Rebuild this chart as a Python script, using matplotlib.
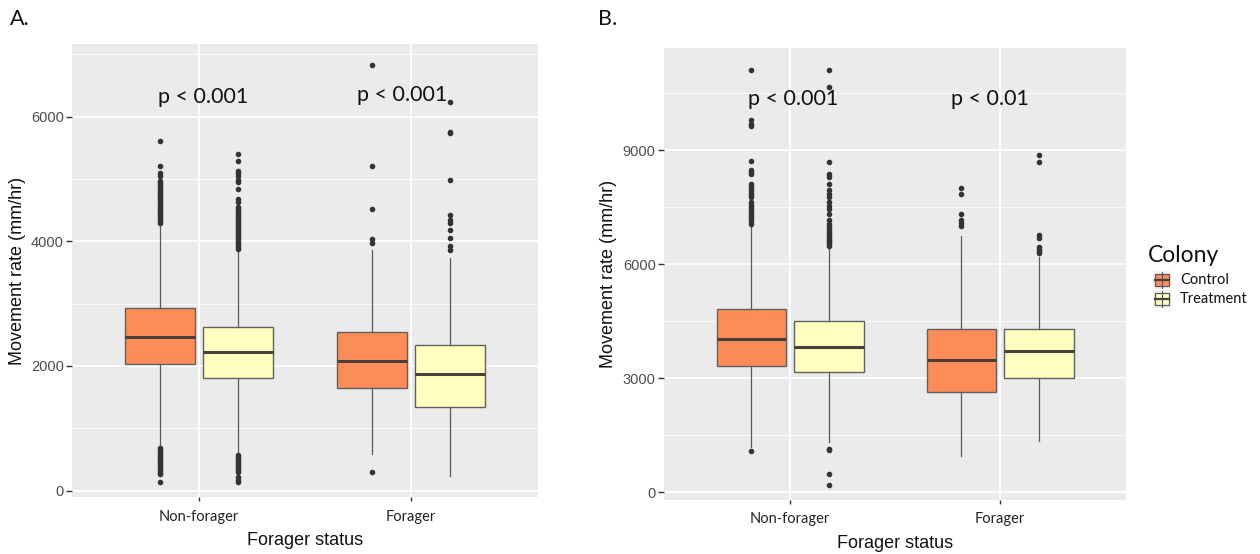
import matplotlib
matplotlib.use("Agg")
import matplotlib.pyplot as plt
from matplotlib.patches import Rectangle
from matplotlib.lines import Line2D
from matplotlib.ticker import MultipleLocator

# ---------------- data ----------------
categories = ["Non-forager", "Forager"]
groups = ["Control", "Treatment"]
colors = {"Control": "#FC8D59", "Treatment": "#FFFFBF"}

# Panel A: [Non-forager, Forager]
A_control_q1 = [2032, 1648]
A_control_med = [2460, 2085]
A_control_q3 = [2930, 2545]
A_control_lo = [700, 587]
A_control_hi = [4280, 3856]
A_control_fliers_nf = [5604, 5214, 5100, 5050, 4973, 4940, 4900, 4870, 4840, 4810, 4780, 4750,
                       4720, 4690, 4660, 4630, 4600, 4570, 4540, 4510, 4480, 4450, 4420, 4390,
                       4360, 4330, 4300,
                       680, 650, 620, 590, 560, 530, 500, 470, 440, 410, 380, 350, 320, 290, 267, 144]
A_control_fliers_f = [6827, 5211, 4523, 4043, 3973, 293]
A_treat_q1 = [1802, 1340]
A_treat_med = [2219, 1870]
A_treat_q3 = [2620, 2335]
A_treat_lo = [588, 229]
A_treat_hi = [3850, 3733]
A_treat_fliers_nf = [5401, 5294, 5134, 5090, 5040, 4990, 4947, 4840, 4679, 4626, 4545, 4510,
                     4480, 4450, 4420, 4390, 4360, 4330, 4300, 4270, 4240, 4210, 4180, 4150,
                     4120, 4090, 4060, 4030, 4000, 3970, 3940, 3910, 3880,
                     570, 540, 510, 480, 450, 420, 390, 360, 330, 300, 214, 170, 134]
A_treat_fliers_f = [6240, 5760, 5733, 4987, 4427, 4347, 4300, 4187, 4053, 3930, 3867]

# Panel B: [Non-forager, Forager]
B_control_q1 = [3333, 2635]
B_control_med = [4035, 3469]
B_control_q3 = [4816, 4294]
B_control_lo = [1200, 966]
B_control_hi = [6974, 6736]
B_control_fliers_nf = [11114, 9781, 9693, 9623, 8711, 8465, 8420, 8377, 8114, 8060, 8000, 7940,
                       7880, 7820, 7763, 7632, 7560, 7500, 7440, 7380, 7320, 7260, 7200, 7140,
                       7061, 1079]
B_control_fliers_f = [8009, 7842, 7307, 7157, 7080, 6999]
B_treat_q1 = [3175, 3003]
B_treat_med = [3833, 3706]
B_treat_q3 = [4491, 4294]
B_treat_lo = [1316, 1344]
B_treat_hi = [6447, 6191]
B_treat_fliers_nf = [11114, 10658, 8684, 8377, 8290, 8114, 7940, 7850, 7763, 7632, 7540, 7440,
                     7325, 7149, 7060, 6974, 6920, 6870, 6820, 6770, 6720, 6670, 6620, 6570,
                     6520, 6470, 1150, 1120, 482, 193]
B_treat_fliers_f = [8870, 8677, 6762, 6674, 6455, 6400, 6350, 6297]

p_labels_A = ["p < 0.001", "p < 0.001"]
p_labels_B = ["p < 0.001", "p < 0.01"]

# ---------------- style ----------------
BG = "#EBEBEB"
TICK_COL = "#4D4D4D"
CAT_FONT = ["Lato", "DejaVu Sans"]
AX_FONT = ["Liberation Sans", "DejaVu Sans"]

W, H = 1260, 554
fig = plt.figure(figsize=(W / 100, H / 100), dpi=100)


def px_axes(left, right, top, bottom):
    return fig.add_axes([left / W, 1 - bottom / H, (right - left) / W, (bottom - top) / H])


def make_stats(q1, med, q3, lo, hi, fliers):
    return dict(q1=q1, med=med, q3=q3, whislo=lo, whishi=hi, fliers=fliers)


def draw_panel(ax, ctrl, trt, ylim, major, minor, plabels, pxy):
    ax.set_facecolor(BG)
    offset, width = 0.185, 0.33
    for gi, (g, st) in enumerate([("Control", ctrl), ("Treatment", trt)]):
        pos = [i + (-offset if gi == 0 else offset) for i in range(len(categories))]
        ax.bxp(st, positions=pos, widths=width, patch_artist=True, showcaps=False,
               boxprops=dict(facecolor=colors[g], edgecolor="#606060", linewidth=1.0),
               medianprops=dict(color="#4a4038", linewidth=2.2),
               whiskerprops=dict(color="#5a5a5a", linewidth=0.9),
               flierprops=dict(marker="o", markersize=3.0, markerfacecolor="#333333",
                               markeredgecolor="#333333", linestyle="none"),
               zorder=3)
    ax.set_xlim(-0.6, 1.6)
    ax.set_ylim(*ylim)
    ax.yaxis.set_major_locator(MultipleLocator(major))
    ax.yaxis.set_minor_locator(MultipleLocator(minor))
    ax.set_xticks(range(len(categories)))
    ax.set_xticklabels(categories, fontfamily=CAT_FONT, fontsize=10.5, color="#222222")
    ax.grid(which="major", color="white", linewidth=1.3, zorder=0)
    ax.grid(which="minor", axis="y", color="white", linewidth=0.6, zorder=0)
    ax.set_axisbelow(True)
    for s in ax.spines.values():
        s.set_visible(False)
    ax.tick_params(axis="y", which="major", length=4, width=1, color="#333333",
                   labelcolor=TICK_COL, labelsize=10.5, pad=2)
    ax.tick_params(axis="y", which="minor", length=0)
    ax.tick_params(axis="x", length=3, width=1, color="#333333", pad=6)
    for lab in ax.get_yticklabels():
        lab.set_fontfamily(AX_FONT)
    ax.set_xlabel("Forager status", fontfamily=AX_FONT, fontsize=13, color="#111111", labelpad=6)
    ax.set_ylabel("Movement rate (mm/hr)", fontfamily=AX_FONT, fontsize=13, color="#111111",
                  labelpad=4)
    for lab, (x, y) in zip(plabels, pxy):
        ax.text(x, y, lab, ha="center", va="center", fontfamily=CAT_FONT, fontsize=15.5,
                color="#111111", zorder=5)


def stats_for(q1, med, q3, lo, hi, fl_list):
    return [make_stats(q1[i], med[i], q3[i], lo[i], hi[i], fl_list[i]) for i in range(2)]


axA = px_axes(72, 538, 44, 497)
draw_panel(axA,
           stats_for(A_control_q1, A_control_med, A_control_q3, A_control_lo, A_control_hi,
                     [A_control_fliers_nf, A_control_fliers_f]),
           stats_for(A_treat_q1, A_treat_med, A_treat_q3, A_treat_lo, A_treat_hi,
                     [A_treat_fliers_nf, A_treat_fliers_f]),
           (-102, 7164), 2000, 1000, p_labels_A, [(0.02, 6320), (0.96, 6340)])

axB = px_axes(664, 1126, 48, 500)
draw_panel(axB,
           stats_for(B_control_q1, B_control_med, B_control_q3, B_control_lo, B_control_hi,
                     [B_control_fliers_nf, B_control_fliers_f]),
           stats_for(B_treat_q1, B_treat_med, B_treat_q3, B_treat_lo, B_treat_hi,
                     [B_treat_fliers_nf, B_treat_fliers_f]),
           (-204, 11684), 3000, 1500, p_labels_B, [(0.015, 10340), (0.95, 10340)])

axA.yaxis.set_label_coords(-46 / 466, 0.5)
axB.yaxis.set_label_coords(-47 / 462, 0.5)

# panel letters
fig.text(10 / W, 1 - 19 / H, "A.", fontfamily=CAT_FONT, fontsize=15.5, va="center", ha="left",
         color="#111111")
fig.text(598 / W, 1 - 19 / H, "B.", fontfamily=CAT_FONT, fontsize=15.5, va="center", ha="left",
         color="#111111")

# legend (manual, ggplot style)
fig.text(1148 / W, 1 - 256 / H, "Colony", fontfamily=CAT_FONT, fontsize=16.5, va="center",
         ha="left", color="#111111")
for k, g in enumerate(groups):
    yc = 280 + 19 * k
    fig.add_artist(Rectangle(((1153) / W, 1 - (yc + 9) / H), 18 / W, 18 / H,
                             transform=fig.transFigure, facecolor="#F2F2F2", edgecolor="none"))
    fig.add_artist(Line2D([1162 / W, 1162 / W], [1 - (yc + 8) / H, 1 - (yc - 8) / H],
                          transform=fig.transFigure, color="#555555", linewidth=0.8))
    fig.add_artist(Rectangle(((1155) / W, 1 - (yc + 6) / H), 14 / W, 12 / H,
                             transform=fig.transFigure, facecolor=colors[g],
                             edgecolor="#5a5a5a", linewidth=0.9))
    fig.add_artist(Line2D([1155 / W, 1169 / W], [1 - yc / H, 1 - yc / H],
                          transform=fig.transFigure, color="#4a4038", linewidth=1.6))
    fig.text(1180 / W, 1 - yc / H, g, fontfamily=CAT_FONT, fontsize=10.5, va="center",
             ha="left", color="#111111")

fig.savefig("out.png", dpi=100, facecolor="white")
